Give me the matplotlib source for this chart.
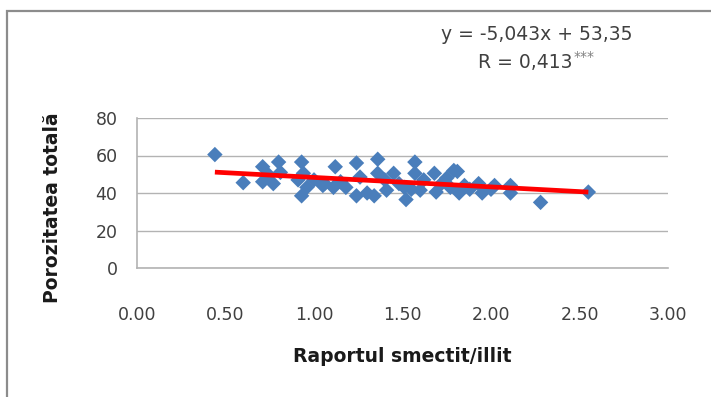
import matplotlib
matplotlib.use("Agg")
import matplotlib.pyplot as plt
from matplotlib.patches import Rectangle
import numpy as np

# smectite/illite ratio vs. total porosity (%)
raport = [0.44, 0.60, 0.71, 0.71, 0.74, 0.80, 0.81, 0.77, 0.93, 0.93,
          0.91, 0.94, 0.96, 1.00, 1.05, 1.06, 1.12, 1.11, 1.15, 1.18,
          1.24, 1.24, 1.26, 1.30, 1.36, 1.36, 1.34, 1.40, 1.41, 1.45,
          1.48, 1.52, 1.51, 1.55, 1.57, 1.57, 1.60, 1.62, 1.68, 1.69,
          1.72, 1.75, 1.77, 1.79, 1.81, 1.82, 1.85, 1.88, 1.93, 1.95,
          2.00, 2.02, 2.11, 2.11, 2.28, 2.55]
porozitate = [60.5, 45.5, 54.0, 46.0, 50.0, 56.5, 51.0, 45.0, 56.5, 38.5,
              47.0, 50.5, 43.0, 47.0, 44.0, 45.0, 54.0, 43.0, 46.0, 43.0,
              56.0, 38.5, 48.5, 40.0, 58.0, 50.5, 38.5, 47.0, 41.5, 50.5,
              45.0, 36.5, 43.0, 42.0, 56.5, 50.5, 41.5, 47.0, 50.5, 40.5,
              45.0, 48.0, 43.0, 52.0, 51.5, 40.0, 44.0, 42.0, 45.0, 40.0,
              42.0, 44.0, 44.0, 40.0, 35.0, 40.5]

panta = -5.043
intercept = 53.35
ecuatie = "y = -5,043x + 53,35"
coef_r = "R = 0,413"

x_ticks = [0.0, 0.5, 1.0, 1.5, 2.0, 2.5, 3.0]
y_ticks = [0, 20, 40, 60, 80]

text_col = "#404040"
grid_col = "#b3b3b3"

fig = plt.figure(figsize=(7.11, 3.97), dpi=100)
ax = fig.add_axes([137 / 711, 129 / 397, 531 / 711, 150 / 397])

ax.scatter(raport, porozitate, marker="D", s=62, color="#4a7ebb",
           edgecolors="none", zorder=3)

# linear trend over the observed range
xl = np.array([min(raport), max(raport)])
ax.plot(xl, panta * xl + intercept, color="#ff0000", lw=3.4,
        solid_capstyle="butt", zorder=4)

ax.set_xlim(0, 3)
ax.set_ylim(0, 80)
ax.set_xticks(x_ticks)
ax.set_xticklabels([f"{v:.2f}" for v in x_ticks])
ax.set_yticks(y_ticks)
ax.tick_params(length=0, labelsize=12.5, labelcolor=text_col)
ax.tick_params(axis="x", pad=27)
ax.tick_params(axis="y", pad=14)
ax.grid(axis="y", color=grid_col, lw=1.0)
ax.set_axisbelow(True)
for side in ["top", "right"]:
    ax.spines[side].set_visible(False)
for side in ["left", "bottom"]:
    ax.spines[side].set_color(grid_col)
    ax.spines[side].set_linewidth(1.2)

ax.set_xlabel("Raportul smectit/illit", fontsize=13.5, fontweight="bold",
              color="#1a1a1a", labelpad=17)
# axis title sits a bit lower than the plot centre
fig.text(53 / 711, 1 - 208 / 397, "Porozitatea totală", rotation=90,
         ha="center", va="center", fontsize=13.5, fontweight="bold",
         color="#1a1a1a")

fig.text(537 / 711, 1 - 34 / 397, ecuatie, ha="center", va="center",
         fontsize=13.5, color=text_col)
fig.text(573 / 711, 1 - 62 / 397, coef_r, ha="right", va="center",
         fontsize=13.5, color=text_col)
fig.text(574 / 711, 1 - 57 / 397, "***", ha="left", va="center",
         fontsize=10, color="#7f7f7f")

# chart frame (top and left edges show)
fig.add_artist(Rectangle((7 / 711, -0.1), 1.2, 1 - 11 / 397 + 0.1,
                         transform=fig.transFigure, fill=False,
                         edgecolor="#8c8c8c", lw=1.6))

fig.savefig("out.png", dpi=100)
